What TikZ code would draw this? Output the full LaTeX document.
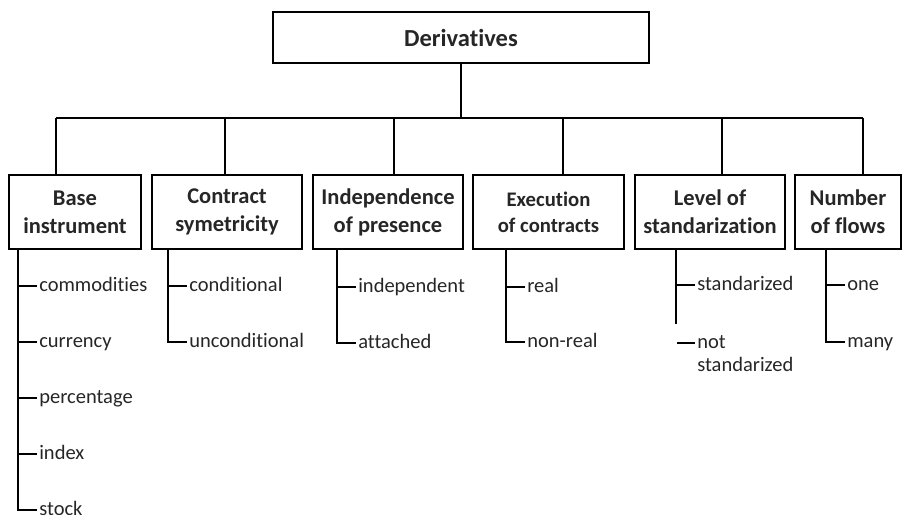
\documentclass[tikz,border=0pt]{standalone}
\usepackage{fontspec}
\setmainfont[Ligatures={NoCommon}]{Carlito}
\definecolor{txt}{HTML}{262626}
\begin{document}
\begin{tikzpicture}[x=1pt,y=-1pt,line width=1.6pt,
  cat/.style={draw=black,rectangle,inner sep=0pt,text=txt,align=center,
    font=\bfseries\fontsize{22.5}{28}\selectfont,minimum height=74pt},
  leaf/.style={anchor=west,inner sep=1.5pt,text=txt,align=left,
    font=\fontsize{20.5}{24}\selectfont,text height=14pt,text depth=4pt},
  conn/.style={draw=black,line width=1.6pt}]
\useasboundingbox (0,0) rectangle (902,514);
% top
\node[cat,minimum width=376pt,minimum height=51pt,
  font=\bfseries\fontsize{24.5}{28}\selectfont] (top) at (461,37.5) {Derivatives};
% categories
\node[cat,minimum width=132pt] (base) at (75,212) {Base\\instrument};
\node[cat,minimum width=150pt] (contract) at (227,212) {Contract\\symetricity};
\node[cat,minimum width=150pt] (indep) at (388,212) {Independence\\of presence};
\node[cat,minimum width=151pt,font=\bfseries\fontsize{20.7}{26}\selectfont] (exec) at (548.5,212) {Execution\\of contracts};
\node[cat,minimum width=150pt] (level) at (710,212) {Level of\\standarization};
\node[cat,minimum width=106pt] (flows) at (848,212) {Number\\of flows};
% bus
\coordinate (bus) at (461,118);
\coordinate (d1) at (56,118);
\coordinate (d2) at (225,118);
\coordinate (d3) at (394,118);
\coordinate (d4) at (563,118);
\coordinate (d5) at (722,118);
\coordinate (d6) at (863,118);
\draw[conn] (top.south) -- (bus);
\draw[conn] (d1) -- (d6);
\draw[conn] (d1) -- (d1 |- base.north);
\draw[conn] (d2) -- (d2 |- contract.north);
\draw[conn] (d3) -- (d3 |- indep.north);
\draw[conn] (d4) -- (d4 |- exec.north);
\draw[conn] (d5) -- (d5 |- level.north);
\draw[conn] (d6) -- (d6 |- flows.north);
% trunks x
\coordinate (t1) at (18,0);
\coordinate (t2) at (168,0);
\coordinate (t3) at (337,0);
\coordinate (t4) at (506,0);
\coordinate (t5) at (676,0);
\coordinate (t6) at (826,0);
% leaves: base
\node[leaf] (b1) at (37,286) {commodities};
\node[leaf] (b2) at (37,342) {currency};
\node[leaf] (b3) at (37,398) {percentage};
\node[leaf] (b4) at (37,454) {index};
\node[leaf] (b5) at (37,510) {stock};
\draw[conn] (t1 |- base.south) -- (t1 |- b5.west) -- (b5.west);
\foreach \n in {b1,b2,b3,b4} \draw[conn] (t1 |- \n.west) -- (\n.west);
% contract
\node[leaf] (c1) at (187,286) {conditional};
\node[leaf] (c2) at (187,342) {unconditional};
\draw[conn] (t2 |- contract.south) -- (t2 |- c2.west) -- (c2.west);
\draw[conn] (t2 |- c1.west) -- (c1.west);
% independence
\node[leaf] (i1) at (356,287) {independent};
\node[leaf] (i2) at (356,343) {attached};
\draw[conn] (t3 |- indep.south) -- (t3 |- i2.west) -- (i2.west);
\draw[conn] (t3 |- i1.west) -- (i1.west);
% execution
\node[leaf] (e1) at (525,287) {real};
\node[leaf] (e2) at (525,342) {non-real};
\draw[conn] (t4 |- exec.south) -- (t4 |- e2.west) -- (e2.west);
\draw[conn] (t4 |- e1.west) -- (e1.west);
% level
\node[leaf] (s1) at (695,285) {standarized};
\node[leaf] (s2) at (695,343) {not};
\node[leaf] (s3) at (695,366) {standarized};
\coordinate (lvend) at (676,324);
\draw[conn] (t5 |- level.south) -- (lvend);
\draw[conn] (t5 |- s1.west) -- (s1.west);
\draw[conn] ([xshift=1pt]t5 |- s2.west) -- (s2.west);
% flows
\node[leaf] (f1) at (845,285) {one};
\node[leaf] (f2) at (845,342) {many};
\draw[conn] (t6 |- flows.south) -- (t6 |- f2.west) -- (f2.west);
\draw[conn] (t6 |- f1.west) -- (f1.west);
\end{tikzpicture}
\end{document}
